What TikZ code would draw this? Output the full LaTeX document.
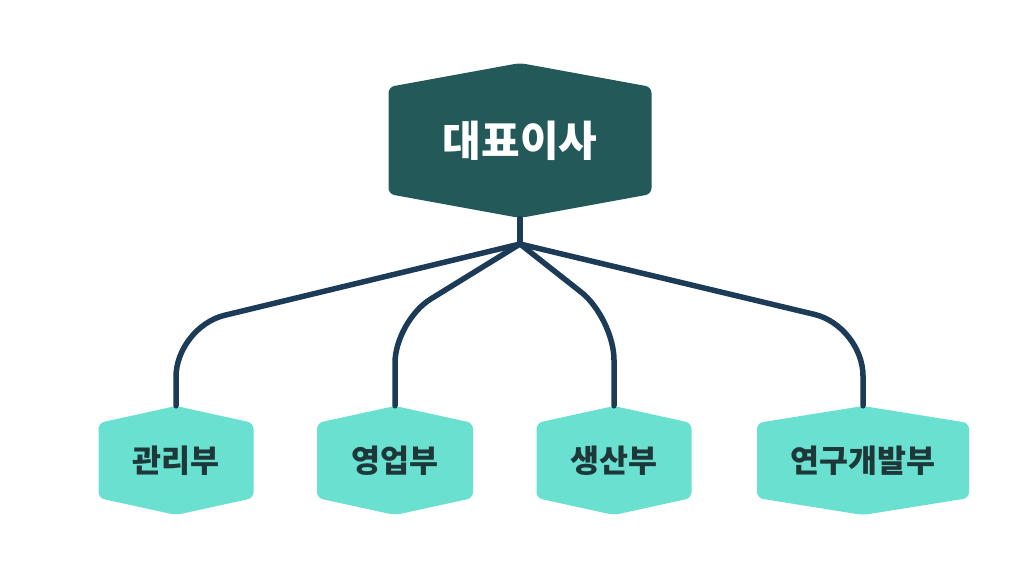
\documentclass[tikz,border=0pt]{standalone}
\usepackage{fontspec}
\newfontfamily\cjk{Noto Sans CJK KR}
\definecolor{topfill}{RGB}{36,89,89}
\definecolor{subfill}{RGB}{106,224,208}
\definecolor{subtext}{RGB}{30,56,58}
\definecolor{conncol}{RGB}{27,59,87}
\tikzset{
  hexa/.style args={#1 and #2}{
    inner sep=0pt,
    path picture={
      \fill[#1, rounded corners=6pt]
        (path picture bounding box.north)
        -- ([yshift=-#2]path picture bounding box.north east)
        -- ([yshift=#2]path picture bounding box.south east)
        -- (path picture bounding box.south)
        -- ([yshift=#2]path picture bounding box.south west)
        -- ([yshift=-#2]path picture bounding box.north west)
        -- cycle;
    }
  },
  topbox/.style={hexa={topfill and 24pt}, minimum width=263pt, minimum height=155pt,
    font=\cjk\bfseries\fontsize{42}{48}\selectfont, text=white},
  subbox/.style={hexa={subfill and 17pt}, minimum height=109pt,
    font=\cjk\bfseries\fontsize{31.5}{36}\selectfont, text=subtext},
  conn/.style={draw=conncol, line width=5.5pt, line cap=round, line join=round}
}
\begin{document}
\begin{tikzpicture}[x=1pt,y=-1pt]
\useasboundingbox (0,0) rectangle (1024,579);
\node[topbox] (ceo) at (520,140.5) {대표이사};
\node[subbox, minimum width=155pt] (a) at (176,460.5) {관리부};
\node[subbox, minimum width=156pt] (b) at (395,460.5) {영업부};
\node[subbox, minimum width=155pt] (c) at (614,460.5) {생산부};
\node[subbox, minimum width=212pt] (d) at (863,460.5) {연구개발부};
\coordinate (jn) at (520,244);
\draw[conn] (ceo.south) -- (jn);
\draw[conn, rounded corners=50pt] (jn) -- (a.north |- 0,327) -- (a.north);
\draw[conn, rounded corners=42pt] (jn) -- (b.north |- 0,321) -- (b.north);
\draw[conn, rounded corners=42pt] (jn) -- (c.north |- 0,318) -- (c.north);
\draw[conn, rounded corners=50pt] (jn) -- (d.north |- 0,326) -- (d.north);
\end{tikzpicture}
\end{document}
